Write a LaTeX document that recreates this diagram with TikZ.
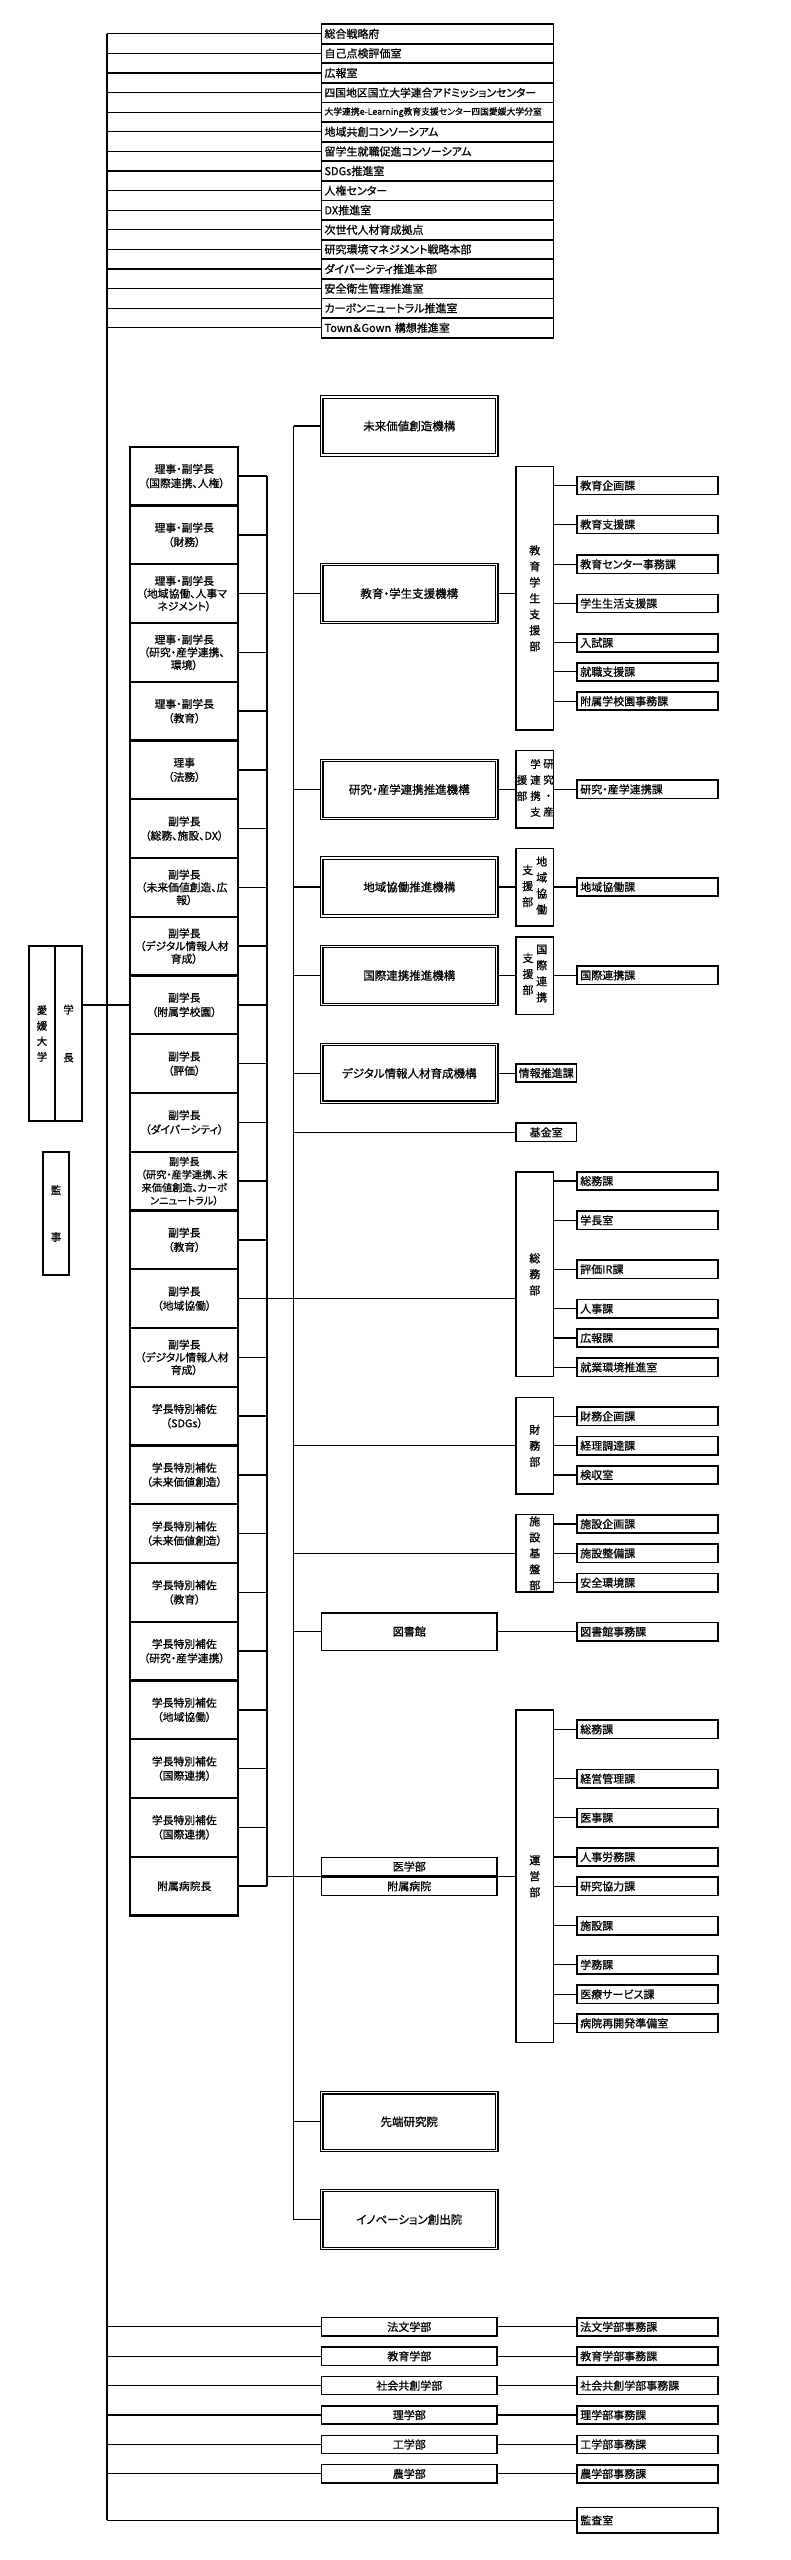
\documentclass[tikz,border=0pt]{standalone}
\usepackage{fontspec}
\setmainfont{Noto Sans CJK JP}[RawFeature=+palt, FakeBold=0.8]
\newcommand\myfs[2]{\fontsize{#1pt}{#2pt}\selectfont}
\begin{document}
\begin{tikzpicture}[x=1pt,y=-1pt,
  ln/.style={line width=1.3pt},
  lst/.style={draw, line width=1.8pt, fill=white, inner xsep=3pt, inner ysep=0pt, text width=226pt, align=left, minimum height=19.6pt, font=\myfs{11}{13}},
  sub/.style={draw, line width=1.6pt, fill=white, inner xsep=3pt, inner ysep=0pt, text width=134.5pt, align=left, minimum height=18.1pt, font=\myfs{11}{13}},
  kikou/.style={draw, double, double distance=1.3pt, line width=1.2pt, fill=white, minimum width=175pt, minimum height=57.8pt, inner sep=0pt, align=center, font=\myfs{11.5}{14}},
  fac/.style={draw, line width=1.5pt, fill=white, minimum width=175.2pt, minimum height=18.2pt, inner sep=0pt, font=\myfs{11}{13}},
  dept/.style={draw, line width=1.5pt, fill=white, minimum width=37.5pt, inner sep=0pt, align=center, font=\myfs{11}{16}},
  small/.style={draw, line width=1.5pt, fill=white, minimum width=60.2pt, minimum height=18.2pt, inner sep=0pt, font=\myfs{11}{13}},
  lbox/.style={draw, line width=2.2pt, fill=white, minimum width=108pt, minimum height=58.75pt, inner sep=0pt, align=center, font=\myfs{10.8}{14.3}},
  thickbox/.style={draw, line width=2.2pt, fill=white, inner sep=0pt, align=center},
  vcol/.style={inner sep=0pt, align=center, font=\myfs{10.5}{16}}
]
\useasboundingbox (0,0) rectangle (790,2560);
\fill[white] (0,0) rectangle (790,2560);
\coordinate (mv) at (107,34);
\coordinate (bus) at (267,476);
\coordinate (sp) at (293.5,426);

% ---------- top list ----------
\foreach \t [count=\i from 0] in {総合戦略府, 自己点検評価室, 広報室, {\myfs{10.8}{13}四国地区国立大学連合アドミッションセンター}, {\myfs{8.8}{10}大学連携e-Learning教育支援センター四国愛媛大学分室}, 地域共創コンソーシアム, 留学生就職促進コンソーシアム, SDGs推進室, 人権センター, DX推進室, 次世代人材育成拠点, 研究環境マネジメント戦略本部, ダイバーシティ推進本部, 安全衛生管理推進室, カーボンニュートラル推進室, Town＆Gown 構想推進室}
  \node[lst] (L\i) at (437.5,{33.8+19.6*\i}) {\t};
\foreach \i in {0,...,15} \draw[ln] (L\i.west -| mv) -- (L\i.west);

% ---------- president ----------
\node[thickbox, minimum width=25.9pt, minimum height=174.8pt, font=\myfs{10.5}{15.5}] (ehime) at (42,1033.5) {愛\\媛\\大\\学};
\node[thickbox, minimum width=26.9pt, minimum height=174.8pt, font=\myfs{10.5}{48}] (gakucho) at (68.5,1033.5) {学\\長};
\node[thickbox, minimum width=25.8pt, minimum height=122.8pt, font=\myfs{10.5}{47}] (kanji) at (56,1213.5) {監\\事};

% ---------- executive column ----------
\node[lbox] (B1) at (184.3,476.1) {理事・副学長\\（国際連携、人権）};
\node[lbox] (B2) at (184.3,534.85) {理事・副学長\\（財務）};
\node[lbox, font=\myfs{10.8}{12.7}] (B3) at (184.3,593.6) {理事・副学長\\（地域協働、人事マ\\ネジメント）};
\node[lbox, font=\myfs{10.8}{12.7}] (B4) at (184.3,652.35) {理事・副学長\\（研究・産学連携、\\環境）};
\node[lbox] (B5) at (184.3,711.1) {理事・副学長\\（教育）};
\node[lbox] (B6) at (184.3,769.85) {理事\\（法務）};
\node[lbox] (B7) at (184.3,828.6) {副学長\\（総務、施設、DX）};
\node[lbox, font=\myfs{10.8}{12.7}] (B8) at (184.3,887.35) {副学長\\（未来価値創造、広\\報）};
\node[lbox, font=\myfs{10.8}{12.7}] (B9) at (184.3,946.1) {副学長\\（デジタル情報人材\\育成）};
\node[lbox] (B10) at (184.3,1004.85) {副学長\\（附属学校園）};
\node[lbox] (B11) at (184.3,1063.6) {副学長\\（評価）};
\node[lbox] (B12) at (184.3,1122.35) {副学長\\（ダイバーシティ）};
\node[lbox, font=\myfs{10.2}{13}] (B13) at (184.3,1181.1) {副学長\\（研究・産学連携、未\\来価値創造、カーボ\\ンニュートラル）};
\node[lbox] (B14) at (184.3,1239.85) {副学長\\（教育）};
\node[lbox] (B15) at (184.3,1298.6) {副学長\\（地域協働）};
\node[lbox, font=\myfs{10.8}{12.7}] (B16) at (184.3,1357.35) {副学長\\（デジタル情報人材\\育成）};
\node[lbox] (B17) at (184.3,1416.1) {学長特別補佐\\（SDGs）};
\node[lbox] (B18) at (184.3,1474.85) {学長特別補佐\\（未来価値創造）};
\node[lbox] (B19) at (184.3,1533.6) {学長特別補佐\\（未来価値創造）};
\node[lbox] (B20) at (184.3,1592.35) {学長特別補佐\\（教育）};
\node[lbox] (B21) at (184.3,1651.1) {学長特別補佐\\（研究・産学連携）};
\node[lbox] (B22) at (184.3,1709.85) {学長特別補佐\\（地域協働）};
\node[lbox] (B23) at (184.3,1768.6) {学長特別補佐\\（国際連携）};
\node[lbox] (B24) at (184.3,1827.35) {学長特別補佐\\（国際連携）};
\node[lbox] (B25) at (184.3,1886.1) {附属病院長};

\draw[ln] (B1.east -| bus) -- (B25.east -| bus);
\foreach \k in {1,...,25} \draw[ln] (B\k.east) -- (B\k.east -| bus);
\draw[ln] (B10.west -| gakucho.east) -- (B10.west);

% ---------- organisations ----------
\node[kikou] (mirai) at (409.3,426) {未来価値創造機構};
\node[kikou] (kyoiku) at (409.3,593.5) {教育・学生支援機構};
\node[kikou] (kenkyu) at (409.3,789.5) {研究・産学連携推進機構};
\node[kikou] (chiiki) at (409.3,887) {地域協働推進機構};
\node[kikou] (kokusai) at (409.3,975.5) {国際連携推進機構};
\node[kikou] (digital) at (409.3,1073.3) {デジタル情報人材育成機構};
\node[kikou] (sentan) at (409.3,2121.7) {先端研究院};
\node[kikou] (innov) at (409.3,2219.5) {イノベーション創出院};
\node[fac, minimum height=37.5pt] (toshokan) at (409.3,1631.5) {図書館};
\node[fac, minimum height=18.1pt] (igakubu) at (409.3,1866.5) {医学部};
\node[fac, minimum height=18.1pt] (fuzoku) at (409.3,1886.2) {附属病院};

\draw[ln] (mirai.west -| sp) -- (innov.west -| sp);
\foreach \n in {mirai,kyoiku,kenkyu,chiiki,kokusai,digital,toshokan,sentan,innov}
  \draw[ln] (\n.west) -- (\n.west -| sp);

% support departments
\node[dept, minimum height=263.2pt] (kyoikuShien) at (534.8,598.3) {教\\育\\学\\生\\支\\援\\部};
\node[dept, minimum height=77.2pt] (kenkyuShien) at (534.8,789.3) {};
\node[dept, minimum height=77.2pt] (chiikiShien) at (534.8,887.3) {};
\node[dept, minimum height=77.5pt] (kokusaiShien) at (534.8,975.5) {};
\begin{scope}
  \clip (kenkyuShien.north west) rectangle (kenkyuShien.south east);
  \node[vcol] (kc1) at (548.5,788) {研\\究\\・\\産};
  \node[vcol] (kc2) at (535.5,788) {学\\連\\携\\支};
  \node[vcol] (kc3) at (522,788) {援\\部};
\end{scope}
\node[vcol, font=\myfs{11}{16}] (cc1) at (541.7,885.5) {地\\域\\協\\働};
\node[vcol, font=\myfs{11}{16}] (cc2) at (527.7,886) {支\\援\\部};
\node[vcol, font=\myfs{11}{16}] (ic1) at (541.7,973.5) {国\\際\\連\\携};
\node[vcol, font=\myfs{11}{16}] (ic2) at (528,974) {支\\援\\部};

\node[small] (jouhou) at (546.2,1073) {情報推進課};
\node[small] (kikin) at (546.2,1132.2) {基金室};

\node[dept, minimum height=204.8pt] (soumu) at (534.8,1274.2) {総\\務\\部};
\node[dept, minimum height=96.5pt] (zaimu) at (534.8,1445.7) {財\\務\\部};
\node[dept, minimum height=77.2pt] (shisetsu) at (534.8,1553.3) {施\\設\\基\\盤\\部};
\node[dept, minimum height=332.5pt] (unei) at (534.8,1876.3) {運\\営\\部};

\draw[ln] (kyoiku.east) -- (kyoiku.east -| kyoikuShien.west);
\draw[ln] (kenkyu.east) -- (kenkyu.east -| kenkyuShien.west);
\draw[ln] (chiiki.east) -- (chiiki.east -| chiikiShien.west);
\draw[ln] (kokusai.east) -- (kokusai.east -| kokusaiShien.west);
\draw[ln] (digital.east) -- (digital.east -| jouhou.west);
\draw[ln] (kikin.west -| sp) -- (kikin.west);
\draw[ln] (B15.east) -- (B15.east -| soumu.west);
\draw[ln] (zaimu.west -| sp) -- (zaimu.west);
\draw[ln] (shisetsu.west -| sp) -- (shisetsu.west);
\draw[ln] (igakubu.south west -| bus) -- (igakubu.south west);
\draw[ln] (igakubu.south east) -- (igakubu.south east -| unei.west);

% ---------- sections ----------
\foreach \t/\y [count=\i] in {教育企画課/485.5, 教育支援課/524.5, 教育センター事務課/564.3, 学生生活支援課/603.5, 入試課/642.8, 就職支援課/671.8, 附属学校園事務課/701.2}
  {\node[sub] (KS\i) at (647.5,\y) {\t}; \draw[ln] (KS\i.west -| kyoikuShien.east) -- (KS\i.west);}
\node[sub] (kenkyuKa) at (647.5,789.3) {研究・産学連携課};
\draw[ln] (kenkyuShien.east |- kenkyuKa.west) -- (kenkyuKa.west);
\node[sub] (chiikiKa) at (647.5,887) {地域協働課};
\draw[ln] (chiikiShien.east |- chiikiKa.west) -- (chiikiKa.west);
\node[sub] (kokusaiKa) at (647.5,975.3) {国際連携課};
\draw[ln] (kokusaiShien.east |- kokusaiKa.west) -- (kokusaiKa.west);

\foreach \t/\y [count=\i] in {総務課/1181, 学長室/1220.3, 評価IR課/1269.3, 人事課/1308.7, 広報課/1338, 就業環境推進室/1367.3}
  {\node[sub] (SM\i) at (647.5,\y) {\t}; \draw[ln] (SM\i.west -| soumu.east) -- (SM\i.west);}
\foreach \t/\y [count=\i] in {財務企画課/1416.3, 経理調達課/1445.7, 検収室/1475}
  {\node[sub] (ZM\i) at (647.5,\y) {\t}; \draw[ln] (ZM\i.west -| zaimu.east) -- (ZM\i.west);}
\foreach \t/\y [count=\i] in {施設企画課/1524, 施設整備課/1553.3, 安全環境課/1582.7}
  {\node[sub] (SS\i) at (647.5,\y) {\t}; \draw[ln] (SS\i.west -| shisetsu.east) -- (SS\i.west);}
\node[sub] (toshoJ) at (647.5,1631.7) {図書館事務課};
\draw[ln] (toshokan.east |- toshoJ.west) -- (toshoJ.west);
\foreach \t/\y [count=\i] in {総務課/1729.3, 経営管理課/1778.7, 医事課/1817.7, 人事労務課/1857, 研究協力課/1886.3, 施設課/1925.7, 学務課/1964.7, 医療サービス課/1994.3, 病院再開発準備室/2023.3}
  {\node[sub] (UN\i) at (647.5,\y) {\t}; \draw[ln] (UN\i.west -| unei.east) -- (UN\i.west);}

% ---------- faculties ----------
\foreach \t/\y [count=\i] in {法文学部/2326.8, 教育学部/2356.2, 社会共創学部/2385.6, 理学部/2415, 工学部/2444.4, 農学部/2473.8}
  {\node[fac] (F\i) at (409.3,\y) {\t};
   \node[sub] (FJ\i) at (647.5,\y) {\t 事務課};
   \draw[ln] (F\i.west -| mv) -- (F\i.west);
   \draw[ln] (F\i.east) -- (FJ\i.west);}
\node[sub, minimum height=25.4pt] (kansa) at (647.5,2520.2) {監査室};
\draw[ln] (kansa.west -| mv) -- (kansa.west);
\draw[ln] (mv) -- (kansa.west -| mv);
\end{tikzpicture}
\end{document}
